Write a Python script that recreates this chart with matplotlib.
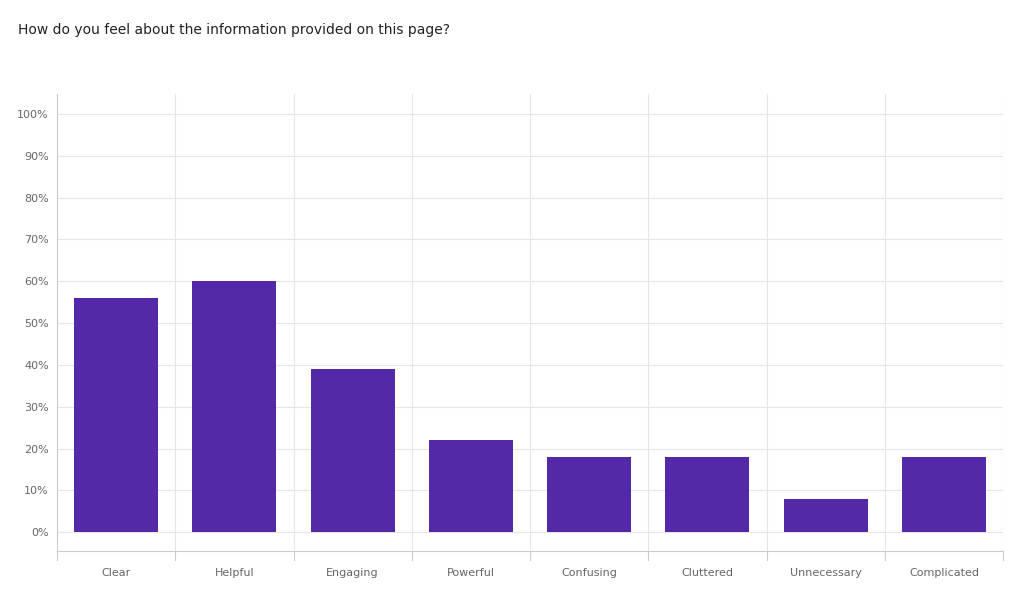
import numpy as np
import matplotlib.pyplot as plt

categories = ["Clear", "Helpful", "Engaging", "Powerful", "Confusing",
              "Cluttered", "Unnecessary", "Complicated"]
values = [56, 60, 39, 22, 18, 18, 8, 18]
yticks = list(range(0, 101, 10))

fig = plt.figure(figsize=(10.24, 5.91), dpi=100)
ax = fig.add_axes([0.0557, 0.0677, 0.9238, 0.7733])

x = np.arange(len(categories))
ax.bar(x, values, width=0.71, color="#5429a8", zorder=3)

ax.set_xlim(-0.5, len(categories) - 0.5)
ax.set_ylim(-4.5, 104.8)
ax.set_yticks(yticks)
ax.set_yticklabels([f"{v}%" for v in yticks], fontsize=8, color="#666666")
ax.set_xticks(x)
ax.set_xticklabels(categories, fontsize=8, color="#666666")
ax.tick_params(axis="x", length=0, pad=12)
ax.tick_params(axis="y", length=0, pad=6)

for v in yticks:
    ax.axhline(v, color="#e6e6e6", lw=0.8, zorder=1)
for b in np.arange(-0.5, len(categories), 1.0):
    ax.axvline(b, color="#e6e6e6", lw=0.8, zorder=1)
    ax.plot([b, b], [-4.5, -6.7], color="#cccccc", lw=0.8, clip_on=False)

for s in ["top", "right"]:
    ax.spines[s].set_visible(False)
ax.spines["left"].set_color("#cccccc")
ax.spines["bottom"].set_color("#cccccc")

fig.text(18 / 1024, 1 - 30 / 591, "How do you feel about the information provided on this page?",
         fontsize=10, color="#222222", va="center")

fig.savefig("out.png", dpi=100)
